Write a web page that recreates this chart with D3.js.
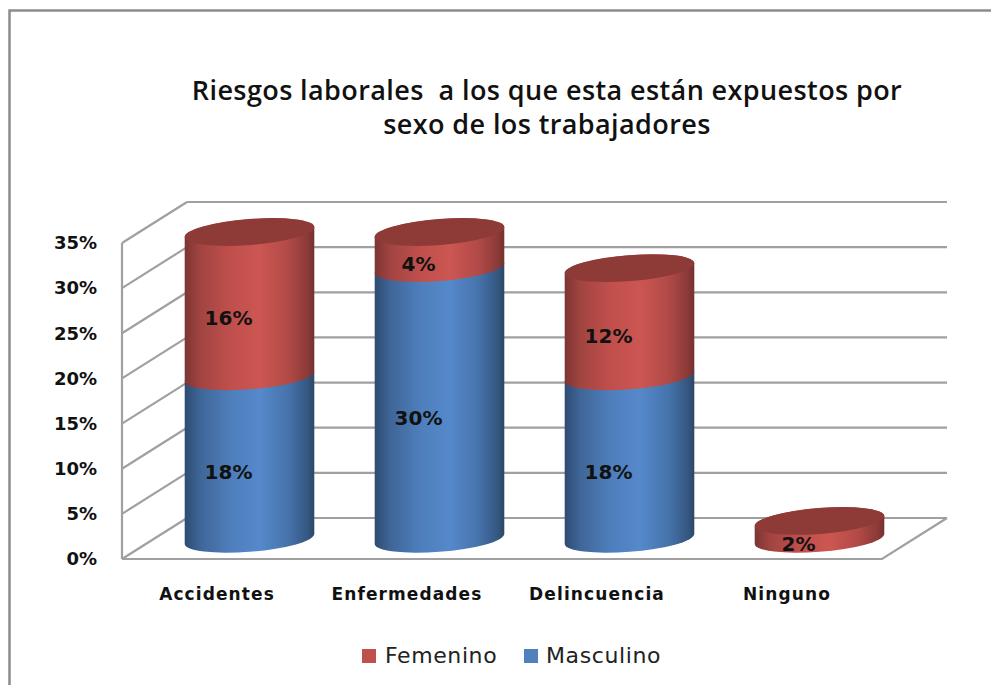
<!DOCTYPE html>
<html>
<head>
<meta charset="utf-8">
<script src="https://cdn.jsdelivr.net/npm/d3@7"></script>
<style>
  html, body { margin: 0; padding: 0; background: #fff; overflow: hidden; }
</style>
</head>
<body>
<div id="chart"></div>
<script>
var categories = ["Accidentes", "Enfermedades", "Delincuencia", "Ninguno"];
var masculino = [18, 30, 18, 0];
var femenino = [16, 4, 12, 2];
var yTicks = [0, 5, 10, 15, 20, 25, 30, 35];
var titleLines = ["Riesgos laborales  a los que esta están expuestos por", "sexo de los trabajadores"];

var svgWidth = 991;
var svgHeight = 685;

var svg = d3.select("#chart")
  .append("svg")
  .attr("width", svgWidth)
  .attr("height", svgHeight)
  .style("display", "block");

// 3d box: the back wall is the front plane shifted by depth
var depth = { x: 65, y: -41 };
var yScale = d3.scaleLinear().domain([0, 35]).range([559, 243]);
var xScale = d3.scaleBand().domain(categories).range([122, 882]);

// cylinder shape
var rx = 65, ry = 13, tilt = -4.5;
var halfW = 64.8, edgeDy = 4.9;
var barDx = 32.5, baseDy = -20;

function gradient(id, stops) {
  var g = svg.append("defs").append("linearGradient")
    .attr("id", id)
    .attr("x1", "0%").attr("x2", "100%")
    .attr("y1", "0%").attr("y2", "0%");
  stops.forEach(function(s) {
    g.append("stop").attr("offset", s[0]).attr("stop-color", s[1]);
  });
}
gradient("redSide", [["0%", "#7c3533"], ["12%", "#a14441"], ["35%", "#c04f4c"], ["58%", "#cc5652"], ["80%", "#b14a47"], ["95%", "#8a3a38"], ["100%", "#743130"]]);
gradient("blueSide", [["0%", "#2e4b72"], ["12%", "#3f6698"], ["35%", "#4e7ebb"], ["58%", "#5589cb"], ["80%", "#4673ab"], ["95%", "#355781"], ["100%", "#2c4767"]]);

// frame
svg.append("path")
  .attr("d", "M9.5,685V10.5H991")
  .attr("fill", "none")
  .attr("stroke", "#8c8c8c")
  .attr("stroke-width", 2.5);

// title
svg.append("text")
  .attr("text-anchor", "middle")
  .attr("font-family", "Open Sans")
  .attr("font-weight", 600)
  .attr("font-size", 27)
  .attr("letter-spacing", 0.4)
  .attr("fill", "#111")
  .style("white-space", "pre")
  .selectAll("tspan")
  .data(titleLines)
  .enter().append("tspan")
  .attr("x", 547)
  .attr("y", function(d, i) { return 100 + i * 34; })
  .text(function(d) { return d; });

// walls and gridlines
var walls = svg.append("g")
  .attr("fill", "none")
  .attr("stroke", "#a0a0a0")
  .attr("stroke-width", 2.2);

walls.selectAll(".side")
  .data(yTicks)
  .enter().append("line")
  .attr("class", "side")
  .attr("x1", 122).attr("x2", 122 + depth.x)
  .attr("y1", function(d) { return yScale(d); })
  .attr("y2", function(d) { return yScale(d) + depth.y; });

walls.selectAll(".back")
  .data(yTicks)
  .enter().append("line")
  .attr("class", "back")
  .attr("x1", 122 + depth.x).attr("x2", 882 + depth.x)
  .attr("y1", function(d) { return yScale(d) + depth.y; })
  .attr("y2", function(d) { return yScale(d) + depth.y; });

walls.append("line")
  .attr("x1", 122).attr("x2", 122)
  .attr("y1", yScale(35)).attr("y2", yScale(0));

walls.append("path")
  .attr("d", "M122," + yScale(0) + "H882L" + (882 + depth.x) + "," + (yScale(0) + depth.y));

// y axis labels
var leftAxis = d3.axisLeft(yScale)
  .tickValues(yTicks)
  .tickSize(0)
  .tickPadding(0)
  .tickFormat(function(d) { return d + "%"; });

var yAxisGroup = svg.append("g")
  .attr("transform", "translate(97, 0)")
  .call(leftAxis);
yAxisGroup.select(".domain").remove();
yAxisGroup.selectAll("text")
  .attr("font-family", "DejaVu Sans")
  .attr("font-weight", "bold")
  .attr("font-size", 18)
  .attr("fill", "#111");

// x axis labels
var bottomAxis = d3.axisBottom(xScale).tickSize(0).tickPadding(0);
var xAxisGroup = svg.append("g")
  .attr("transform", "translate(0, 588)")
  .call(bottomAxis);
xAxisGroup.select(".domain").remove();
xAxisGroup.selectAll("text")
  .attr("font-family", "DejaVu Sans")
  .attr("font-weight", "bold")
  .attr("font-size", 17)
  .attr("letter-spacing", 1.1)
  .attr("fill", "#111");

function centerX(cat) {
  return xScale(cat) + xScale.bandwidth() / 2 + barDx;
}

function centerY(value) {
  return yScale(value) + baseDy;
}

// body between two values, front arc on the lower edge
function sidePath(cat, from, to) {
  var cx = centerX(cat), y0 = centerY(from), y1 = centerY(to);
  return "M" + (cx - halfW) + "," + (y0 + edgeDy) +
    "A" + rx + "," + ry + "," + tilt + ",0,0," + (cx + halfW) + "," + (y0 - edgeDy) +
    "L" + (cx + halfW) + "," + (y1 - edgeDy) +
    "A" + rx + "," + ry + "," + tilt + ",0,0," + (cx - halfW) + "," + (y1 + edgeDy) + "Z";
}

var bars = svg.append("g");

categories.forEach(function(cat, i) {
  var m = masculino[i], f = femenino[i];
  if (m > 0) {
    bars.append("path")
      .attr("d", sidePath(cat, 0, m))
      .attr("fill", "url(#blueSide)");
  }
  bars.append("path")
    .attr("d", sidePath(cat, m, m + f))
    .attr("fill", "url(#redSide)");
  bars.append("ellipse")
    .attr("rx", rx)
    .attr("ry", ry)
    .attr("transform", "translate(" + centerX(cat) + "," + centerY(m + f) + ")rotate(" + tilt + ")")
    .attr("fill", "#8e3b38");
});

// value labels
var labels = svg.append("g")
  .attr("text-anchor", "middle")
  .attr("font-family", "DejaVu Sans")
  .attr("font-weight", "bold")
  .attr("font-size", 20)
  .attr("fill", "#111");

categories.forEach(function(cat, i) {
  var m = masculino[i], f = femenino[i];
  if (m > 0) {
    labels.append("text")
      .attr("x", centerX(cat) - 21)
      .attr("y", yScale(m / 2) + 1)
      .text(m + "%");
  }
  labels.append("text")
    .attr("x", centerX(cat) - 21)
    .attr("y", yScale(m + f / 2) + 1)
    .text(f + "%");
});

// legend
var legendItems = [
  { name: "Femenino", color: "#c0504d", box: 362, text: 385 },
  { name: "Masculino", color: "#4f81bd", box: 524, text: 546 }
];
var legend = svg.selectAll(".legend")
  .data(legendItems)
  .enter().append("g")
  .attr("class", "legend");
legend.append("rect")
  .attr("x", function(d) { return d.box; })
  .attr("y", 649)
  .attr("width", 14)
  .attr("height", 14)
  .attr("fill", function(d) { return d.color; });
legend.append("text")
  .attr("x", function(d) { return d.text; })
  .attr("y", 663)
  .attr("font-family", "DejaVu Sans")
  .attr("font-size", 22)
  .attr("letter-spacing", 0.6)
  .attr("fill", "#222")
  .text(function(d) { return d.name; });
</script>
</body>
</html>
